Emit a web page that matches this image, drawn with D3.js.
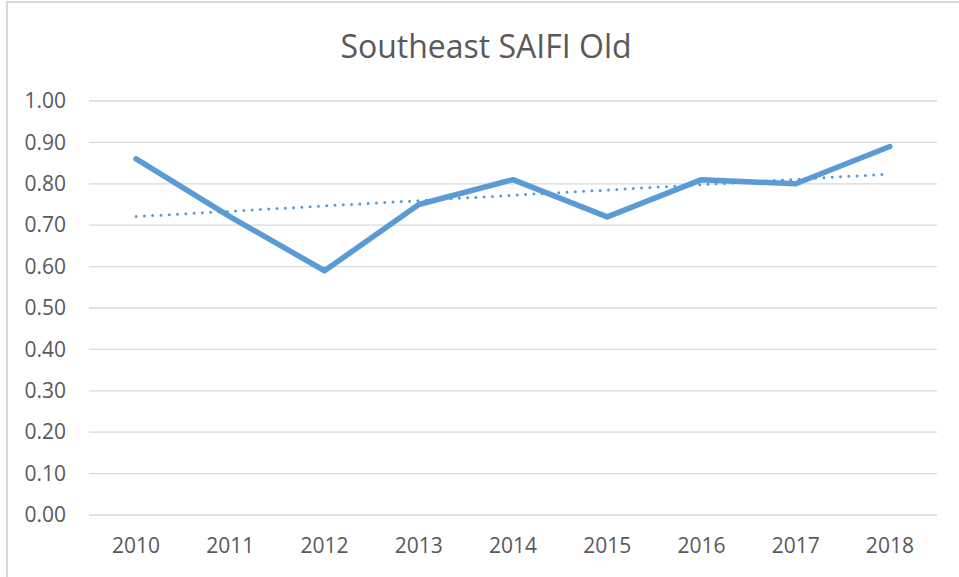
<!DOCTYPE html>
<html lang="en"><head><meta charset="UTF-8">
	<title>Southeast SAIFI Old</title>
	<script src="https://d3js.org/d3.v7.min.js"></script>
	<style type="text/css">
		body { margin: 0; background: #fff; }
		text { font-family: "Open Sans", sans-serif; fill: #595959; }
	</style>
</head>
<body>
	<script type="text/javascript">

		var w = 959;
		var h = 577;

		// data
		var years = ["2010", "2011", "2012", "2013", "2014", "2015", "2016", "2017", "2018"];
		var saifi = [0.86, 0.72, 0.59, 0.75, 0.81, 0.72, 0.81, 0.80, 0.89];
		var yTicks = [0, 0.1, 0.2, 0.3, 0.4, 0.5, 0.6, 0.7, 0.8, 0.9, 1.0];

		var margin = {top: 101, right: 22, bottom: 62, left: 89};

		var xScale = d3.scaleBand()
			.domain(years)
			.range([margin.left, w - margin.right]);
		var yScale = d3.scaleLinear()
			.domain([0, 1])
			.range([h - margin.bottom, margin.top]);

		var svg = d3.select("body")
			.append("svg")
			.attr("width", w)
			.attr("height", h);

		// chart frame
		svg.append("rect")
			.attr("x", 7).attr("y", 2)
			.attr("width", w + 10).attr("height", h + 10)
			.attr("fill", "none")
			.attr("stroke", "#d9d9d9")
			.attr("stroke-width", 2);

		svg.append("text")
			.attr("x", 486).attr("y", 58)
			.attr("text-anchor", "middle")
			.attr("font-size", "32px")
			.text("Southeast SAIFI Old");

		// gridlines
		svg.append("g")
			.selectAll("line")
			.data(yTicks)
			.enter()
			.append("line")
			.attr("x1", margin.left)
			.attr("x2", w - margin.right)
			.attr("y1", function(d) { return yScale(d); })
			.attr("y2", function(d) { return yScale(d); })
			.attr("stroke", "#d9d9d9")
			.attr("stroke-width", 1.3);

		var yAxis = d3.axisLeft(yScale)
			.tickValues(yTicks)
			.tickFormat(d3.format(".2f"))
			.tickSize(0)
			.tickPadding(23);
		var gy = svg.append("g")
			.attr("transform", "translate(" + margin.left + ",0)")
			.call(yAxis);
		gy.select(".domain").remove();
		gy.selectAll("text").attr("font-size", "21px").attr("fill", "#595959")
			.attr("font-family", "Open Sans, sans-serif");

		var xAxis = d3.axisBottom(xScale).tickSize(0).tickPadding(23);
		var gx = svg.append("g")
			.attr("transform", "translate(0," + yScale(0) + ")")
			.call(xAxis);
		gx.select(".domain").remove();
		gx.selectAll("text").attr("font-size", "21px").attr("fill", "#595959")
			.attr("font-family", "Open Sans, sans-serif");

		var cx = function(i) { return xScale(years[i]) + xScale.bandwidth() / 2; };

		// linear trendline (least squares over the series)
		var n = saifi.length;
		var mx = d3.mean(d3.range(n));
		var my = d3.mean(saifi);
		var sxy = d3.sum(saifi, function(d, i) { return (i - mx) * (d - my); });
		var sxx = d3.sum(d3.range(n), function(i) { return (i - mx) * (i - mx); });
		var slope = sxy / sxx;
		var trend = [0, n - 1].map(function(i) { return [i, my + slope * (i - mx)]; });

		svg.append("path")
			.datum(trend)
			.attr("fill", "none")
			.attr("stroke", "#5b9bd5")
			.attr("stroke-width", 3)
			.attr("stroke-linecap", "round")
			.attr("stroke-dasharray", "0 8.3")
			.attr("d", d3.line()
				.x(function(d) { return cx(d[0]); })
				.y(function(d) { return yScale(d[1]); }));

		svg.append("path")
			.datum(saifi)
			.attr("fill", "none")
			.attr("stroke", "#5b9bd5")
			.attr("stroke-width", 5.5)
			.attr("stroke-linecap", "round")
			.attr("stroke-linejoin", "round")
			.attr("d", d3.line()
				.x(function(d, i) { return cx(i); })
				.y(function(d) { return yScale(d); }));

	</script>
</body>
</html>
